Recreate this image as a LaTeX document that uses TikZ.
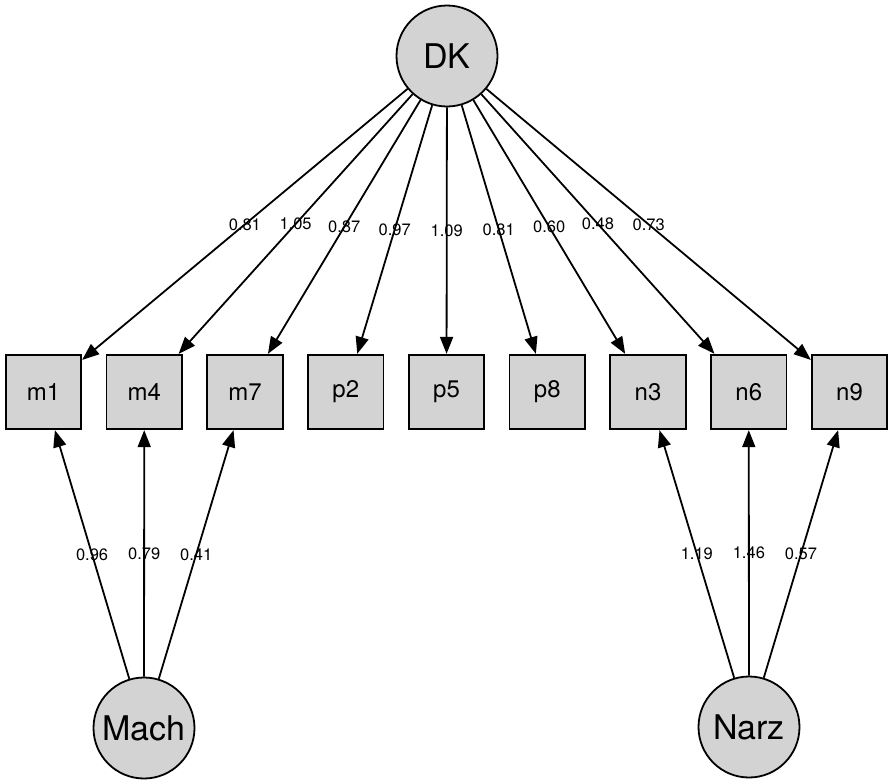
\documentclass[tikz,border=0pt]{standalone}
\usepackage{fontspec}
\setmainfont{TeX Gyre Heros}
\usetikzlibrary{arrows.meta}
\definecolor{lgray}{RGB}{211,211,211}
\tikzset{
  latent/.style={draw,circle,fill=lgray,line width=1.8pt,minimum size=101pt,inner sep=0pt,font=\fontsize{34}{34}\selectfont},
  manifest/.style={draw,rectangle,fill=lgray,line width=1.8pt,minimum width=75.5pt,minimum height=74.5pt,inner sep=0pt,font=\fontsize{24}{24}\selectfont},
  loading/.style={line width=1.8pt,-{Triangle[length=17pt,width=13pt]}},
  coef/.style={midway,inner sep=0pt,font=\fontsize{16.5}{16.5}\selectfont}
}
\begin{document}
\begin{tikzpicture}[x=1pt,y=-1pt]
\useasboundingbox (0,0) rectangle (889,782);

% latent variables
\node[latent] (DK) at (447,56) {DK};
\node[latent] (Mach) at (144,728) {Mach};
\node[latent] (Narz) at (749,727) {Narz};

% items
\node[manifest] (m1) at (43.5,392) {m1};
\node[manifest] (m4) at (144.25,392) {m4};
\node[manifest] (m7) at (245,392) {m7};
\node[manifest] (p2) at (345.75,392) {p2};
\node[manifest] (p5) at (446.5,392) {p5};
\node[manifest] (p8) at (547.25,392) {p8};
\node[manifest] (n3) at (648,392) {n3};
\node[manifest] (n6) at (748.75,392) {n6};
\node[manifest] (n9) at (849.5,392) {n9};

% loadings DK
\draw[loading] (DK) -- (m1) node[coef] {0.81};
\draw[loading] (DK) -- (m4) node[coef] {1.05};
\draw[loading] (DK) -- (m7) node[coef] {0.87};
\draw[loading] (DK) -- (p2) node[coef] {0.97};
\draw[loading] (DK) -- (p5) node[coef] {1.09};
\draw[loading] (DK) -- (p8) node[coef] {0.81};
\draw[loading] (DK) -- (n3) node[coef] {0.60};
\draw[loading] (DK) -- (n6) node[coef] {0.48};
\draw[loading] (DK) -- (n9) node[coef] {0.73};

% loadings Mach, Narz
\draw[loading] (Mach) -- (m1) node[coef] {0.96};
\draw[loading] (Mach) -- (m4) node[coef] {0.79};
\draw[loading] (Mach) -- (m7) node[coef] {0.41};
\draw[loading] (Narz) -- (n3) node[coef] {1.19};
\draw[loading] (Narz) -- (n6) node[coef] {1.46};
\draw[loading] (Narz) -- (n9) node[coef] {0.57};
\end{tikzpicture}
\end{document}
